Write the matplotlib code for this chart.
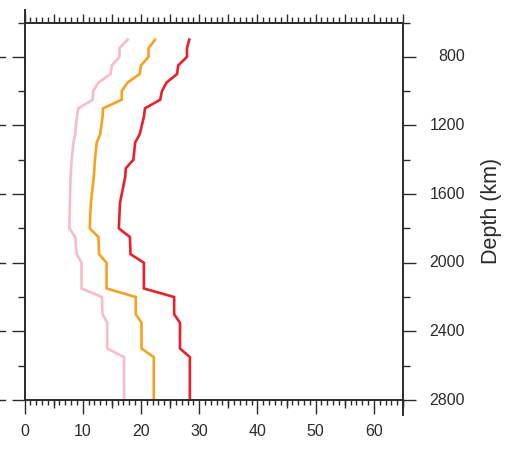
import numpy as np
import matplotlib
matplotlib.use('Agg')
import matplotlib.pyplot as plt
from matplotlib.ticker import MultipleLocator, FixedLocator
import matplotlib.transforms as mtransforms
from matplotlib.lines import Line2D

# ---- data ----
depth = [700, 750, 800, 850, 900, 950, 1000, 1050, 1100, 1150, 1250, 1300,
         1400, 1450, 1500, 1650, 1800, 1850, 1950, 2000, 2150, 2200, 2300,
         2350, 2500, 2550, 2800]
red = [28.3, 27.9, 27.9, 26.4, 26.2, 24.4, 23.6, 23.3, 20.7, 20.5, 19.8, 19.0,
       18.7, 17.4, 17.3, 16.4, 16.2, 18.1, 18.2, 20.5, 20.5, 25.7, 25.7,
       26.7, 26.7, 28.4, 28.4]
orange = [22.4, 21.3, 21.3, 20.0, 19.8, 17.7, 16.7, 16.7, 13.5, 13.4, 13.0, 12.4,
          12.1, 12.0, 11.9, 11.4, 11.2, 12.7, 12.8, 14.1, 14.1, 19.1, 19.1,
          20.1, 20.1, 22.2, 22.2]
pink = [17.7, 16.3, 16.3, 15.0, 14.8, 12.7, 11.8, 11.7, 9.25, 9.0, 8.7, 8.4,
        8.1, 8.0, 7.9, 7.8, 7.7, 8.7, 8.96, 9.8, 9.8, 13.3, 13.4,
        14.2, 14.2, 17.1, 17.1]
x_ticks = [0, 10, 20, 30, 40, 50, 60]
y_ticks = [800, 1200, 1600, 2000, 2400, 2800]
y_minor = [600, 1000, 1400, 1800, 2200, 2600]
ylabel = "Depth (km)"

plt.rcParams['font.family'] = ['Liberation Sans', 'DejaVu Sans']
FC = '#2b2b2b'

W, H = 505, 467
fig = plt.figure(figsize=(W / 100, H / 100), dpi=100)
L, R, T, B = 24.5, 403, 22.5, 400
ax = fig.add_axes([L / W, 1 - B / H, (R - L) / W, (B - T) / H])

for vals, c in [(pink, '#f7bcc7'), (orange, '#f6a21c'), (red, '#e8202a')]:
    ax.plot(vals, depth, color=c, lw=1.9, solid_joinstyle='miter')

ax.set_xlim(0, 65)
ax.set_ylim(2800, 600)

for s in ax.spines.values():
    s.set_color(FC)
    s.set_linewidth(1.4)

px = 72 / 100  # points per pixel
# bottom x ticks
ax.xaxis.set_major_locator(FixedLocator(x_ticks))
ax.xaxis.set_minor_locator(MultipleLocator(1))
ax.tick_params(axis='x', which='major', direction='out', length=14 * px,
               width=1.0, color=FC, labelsize=11.5, labelcolor=FC, pad=7.5,
               top=False, bottom=True)
ax.tick_params(axis='x', which='minor', direction='out', length=5 * px,
               width=1.0, color=FC, top=False, bottom=True)

# medium bottom ticks every 5
sb = ax.secondary_xaxis('bottom')
sb.spines['bottom'].set_visible(False)
sb.xaxis.set_major_locator(FixedLocator(np.arange(5, 66, 10)))
sb.tick_params(axis='x', which='major', direction='out', length=8 * px,
               width=1.0, color=FC, labelbottom=False)
sb.xaxis.set_minor_locator(FixedLocator([]))

# top ticks
st = ax.secondary_xaxis('top')
st.spines['top'].set_visible(False)
st.xaxis.set_major_locator(MultipleLocator(5))
st.xaxis.set_minor_locator(MultipleLocator(1))
st.tick_params(axis='x', which='major', direction='out', length=8 * px,
               width=1.0, color=FC, labeltop=False)
st.tick_params(axis='x', which='minor', direction='out', length=5 * px,
               width=1.0, color=FC)

# y ticks (both sides), labels on right
ax.set_yticks(y_ticks)
ax.yaxis.set_minor_locator(FixedLocator(y_minor))
ax.tick_params(axis='y', which='major', direction='out', length=13.5 * px,
               width=1.0, color=FC, left=True, right=True,
               labelleft=False, labelright=True, labelsize=11.5,
               labelcolor=FC, pad=48.5 * px)
ax.tick_params(axis='y', which='minor', direction='out', length=7 * px,
               width=1.0, color=FC, left=True, right=True)
for lab in ax.get_yticklabels():
    lab.set_ha('right')
    lab.set_va('center')

# y-axis label on the right
fig.text(492 / W, 1 - 210.5 / H, ylabel, rotation=90, ha='center',
         va='center', fontsize=15.5, color=FC)

# frame decorations (spine extensions / outer dashes)
tr_left = mtransforms.blended_transform_factory(fig.transFigure, ax.transData)
for yv in y_ticks:
    fig.add_artist(Line2D([0, 5 / W], [yv, yv], transform=tr_left,
                          color=FC, lw=1.0))
tr_x = mtransforms.blended_transform_factory(ax.transData, fig.transFigure)
fig.add_artist(Line2D([0, 0], [1 - T / H, 1 - 10 / H], transform=tr_x,
                      color=FC, lw=1.4))
fig.add_artist(Line2D([65, 65], [1 - B / H, 1 - 415 / H], transform=tr_x,
                      color=FC, lw=1.4))

fig.savefig('out.png', dpi=100)
